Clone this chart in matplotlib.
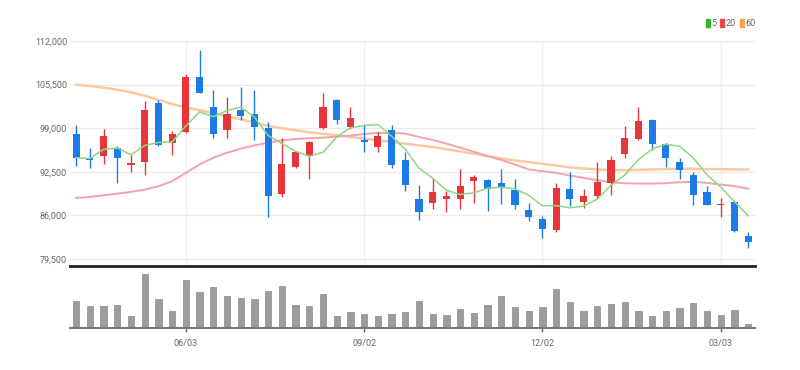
import numpy as np
import pandas as pd
import matplotlib
matplotlib.use("Agg")
import matplotlib.pyplot as plt
from matplotlib.patches import Patch

plt.rcParams['font.family'] = ['Roboto', 'DejaVu Sans']

# weekly candles, 2024-04-08 .. 2025-03-17
dates = pd.date_range("2024-04-08", periods=50, freq="W-MON")

opens = [98200, 94600, 94800, 96100, 93500, 93900, 102700, 96800, 98400, 106600,
         102200, 98700, 101700, 101100, 99000, 89200, 93200, 94900, 99100, 103200,
         99200, 97300, 96200, 98700, 94300, 88500, 87800, 88400, 88500, 91200,
         91300, 90800, 89800, 86800, 85400, 83800, 90000, 88000, 88900, 90800,
         95200, 97400, 100200, 96600, 93900, 92100, 89500, 87500, 88000, 83000]
highs = [99500, 96100, 98900, 96300, 95000, 103100, 103200, 98600, 107100, 110600,
         104700, 103600, 105200, 104700, 100000, 97500, 95600, 97100, 104200, 103300,
         102200, 99700, 98400, 99500, 95500, 90500, 91600, 89700, 92900, 92000,
         91400, 92900, 91500, 87800, 85900, 90800, 92400, 90000, 93900, 94800,
         99400, 102200, 100400, 96800, 94500, 92500, 90400, 88600, 88100, 83500]
lows = [93400, 93100, 93700, 90900, 92500, 92000, 96400, 95000, 98300, 104200,
        97500, 97500, 100200, 97300, 85700, 88700, 93000, 91400, 98900, 99700,
        98900, 95400, 95400, 93000, 89700, 85300, 87000, 86500, 87000, 87800,
        86600, 87700, 87000, 85200, 82600, 83500, 87400, 87100, 88500, 89100,
        94500, 97300, 95700, 93200, 91400, 87600, 87500, 85800, 83500, 81100]
closes = [94600, 94300, 97900, 94600, 93800, 101700, 96500, 98200, 106600, 104300,
          98100, 101100, 100800, 99200, 88900, 93700, 95400, 97000, 102200, 100300,
          100600, 97000, 97900, 93500, 90500, 86500, 89500, 88900, 90400, 91700,
          90000, 90200, 87600, 85700, 83900, 90100, 88500, 88900, 91000, 94300,
          97600, 100100, 96700, 94500, 92700, 89000, 87500, 87600, 83600, 82100]
volumes = [820, 670, 670, 700, 350, 1620, 860, 520, 1450, 1070,
           1250, 970, 900, 870, 1100, 1270, 700, 670, 1020, 360,
           470, 420, 350, 420, 470, 820, 420, 400, 560, 450,
           700, 950, 620, 500, 620, 1170, 770, 500, 670, 720,
           770, 500, 370, 500, 600, 750, 520, 400, 550, 120]
volumes = [v * 1000 for v in volumes]

ma5 = [94600, 94500, 95850, 96050, 95020, 96440, 96880, 96950, 99350, 101440,
       100720, 101640, 102150, 100660, 97900, 96700, 95560, 94810, 95420, 97700,
       99070, 99390, 99560, 97810, 95850, 93040, 91540, 89740, 89120, 89370,
       90060, 90210, 89950, 89010, 87440, 87470, 87120, 87380, 88440, 90520,
       92010, 94340, 95910, 96610, 96300, 94580, 92050, 90230, 88060, 85940]
ma20 = [88600, 88750, 89000, 89250, 89500, 89850, 90350, 91100, 92350, 93600,
        94600, 95350, 95950, 96450, 96850, 97200, 97400, 97500, 97600, 97750,
        97900, 98150, 98300, 98300, 98200, 97700, 97250, 96700, 96100, 95500,
        94850, 94250, 93600, 92850, 92600, 92350, 91950, 91600, 91250, 90950,
        90800, 90750, 90750, 90800, 90950, 91000, 90850, 90600, 90350, 90000]
ma60 = [105500, 105300, 105050, 104750, 104350, 103850, 103250, 102600, 102100, 101700,
        101250, 100750, 100350, 99850, 99350, 99000, 98700, 98400, 98150, 97950,
        97700, 97450, 97200, 96950, 96700, 96450, 96200, 95850, 95550, 95200,
        94850, 94500, 94200, 93950, 93700, 93450, 93150, 93000, 92850, 92750,
        92750, 92800, 92850, 92900, 92950, 92950, 92900, 92900, 92850, 92850]

tick_labels = ["06/03", "09/02", "12/02", "03/03"]
price_ticks = [79500, 86000, 92500, 99000, 105500, 112000]

up_color = "#e6363b"
down_color = "#1c7be6"

x = np.arange(len(dates))
o = np.array(opens); c = np.array(closes)
h = np.array(highs); l = np.array(lows)
colors = [up_color if cc >= oo else down_color for oo, cc in zip(o, c)]

fig = plt.figure(figsize=(8, 3.7), dpi=100)
ax = fig.add_axes([0.0875, 0.281, 0.8563, 0.608])
axv = fig.add_axes([0.0875, 0.1135, 0.8563, 0.157], sharex=ax)

# candles
ax.vlines(x, l, h, colors=colors, linewidth=1.0, zorder=3)
body_low = np.minimum(o, c)
body_h = np.maximum(np.abs(c - o), 150)
ax.bar(x, body_h, bottom=body_low, width=0.52, color=colors, zorder=4)

# moving averages
ax.plot(x, ma60, color="#f9caa2", linewidth=1.8, zorder=2)
ax.plot(x, ma20, color="#f4a3a8", linewidth=1.4, zorder=2)
ax.plot(x, ma5, color="#8bd881", linewidth=1.1, zorder=5)

date_lbl = [d.strftime("%m/%d") for d in dates]
tick_pos = [date_lbl.index(t) for t in tick_labels]

ax.set_xlim(-0.45, 49.5)
ax.set_ylim(78450, 112000)
ax.set_yticks(price_ticks)
ax.set_yticklabels([f"{p:,}" for p in price_ticks])
ax.tick_params(axis="y", length=0, labelsize=6.5, colors="#666666", pad=2)
ax.tick_params(axis="x", length=0, labelbottom=False)
ax.grid(axis="y", color="#ebebeb", linewidth=0.9)
for p in tick_pos:
    ax.axvline(p, color="#f0f0f0", linewidth=0.9, zorder=0)
for s in ["top", "right", "left"]:
    ax.spines[s].set_visible(False)
ax.spines["bottom"].set_color("#222222")
ax.spines["bottom"].set_linewidth(2)

# volume
axv.bar(x, volumes, width=0.46, color="#9c9c9c", edgecolor="#8a8a8a", linewidth=0.5)
axv.set_ylim(0, max(volumes) * 1.08)
axv.set_yticks([])
axv.set_xticks(tick_pos)
axv.set_xticklabels(tick_labels)
axv.tick_params(axis="x", length=3, width=1, colors="#666666", labelsize=6.5, pad=5)
for s in ["top", "right", "left"]:
    axv.spines[s].set_visible(False)
axv.spines["bottom"].set_color("#777777")
axv.spines["bottom"].set_linewidth(1.5)

handles = [Patch(color="#2fb82f", label="5"),
           Patch(color="#e84545", label="20"),
           Patch(color="#f3a550", label="60")]
fig.legend(handles=handles, loc="upper right", bbox_to_anchor=(0.955, 0.97),
           ncol=3, frameon=False, fontsize=6.5, handlelength=0.45, handleheight=1.0,
           handletextpad=0.2, columnspacing=0.4, labelcolor="#666666")

fig.savefig("out.png", dpi=100, facecolor="white")
